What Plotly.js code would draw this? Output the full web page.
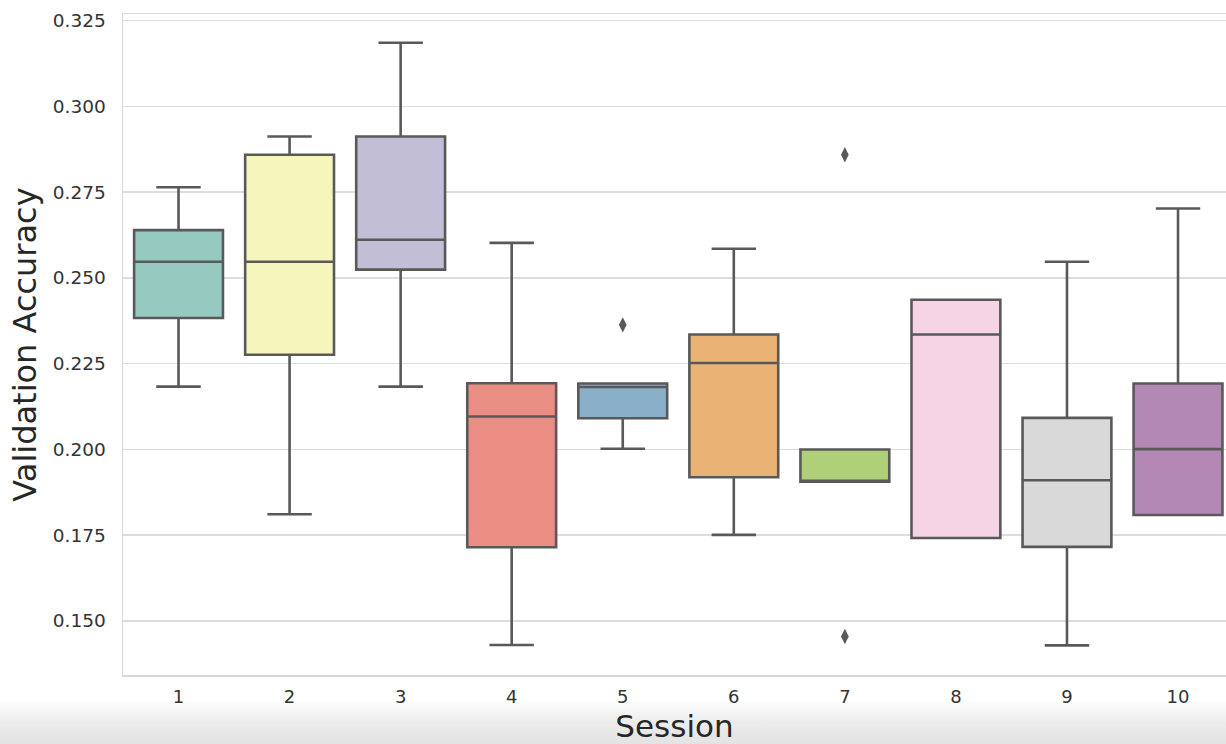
<!DOCTYPE html>
<html>
<head>
<meta charset="utf-8">
<script src="https://cdn.plot.ly/plotly-3.0.1.min.js"></script>
<style>
  html, body { margin: 0; padding: 0; }
  body {
    width: 1226px; height: 744px; overflow: hidden;
    background: linear-gradient(to bottom, #ffffff 0px, #ffffff 700px, #ececec 722px, #e3e3e3 744px);
  }
  #chart { width: 1226px; height: 744px; }
</style>
</head>
<body>
<div id="chart"></div>
<script>
// Validation accuracy per training session: box statistics
const sessions = [1, 2, 3, 4, 5, 6, 7, 8, 9, 10];
const lowerWhisker = [0.2183, 0.1811, 0.2183, 0.1430, 0.2002, 0.1751, 0.1906, 0.1742, 0.1429, 0.1809];
const quartile1    = [0.2383, 0.2276, 0.2524, 0.1715, 0.2091, 0.1919, 0.1906, 0.1742, 0.1716, 0.1809];
const medians      = [0.2547, 0.2547, 0.2611, 0.2096, 0.2182, 0.2252, 0.1906, 0.2335, 0.1910, 0.2001];
const quartile3    = [0.2639, 0.2859, 0.2912, 0.2193, 0.2192, 0.2335, 0.2000, 0.2436, 0.2092, 0.2192];
const upperWhisker = [0.2764, 0.2912, 0.3185, 0.2602, 0.2192, 0.2585, 0.2000, 0.2436, 0.2547, 0.2702];

// Points beyond the whiskers
const outlierSession = [5, 7, 7];
const outlierValue   = [0.2363, 0.2859, 0.1455];

// Set3 palette, softened
const boxColors = ['#96cac1', '#f6f6bc', '#c1bed6', '#ea8d83', '#8aafc9',
                   '#eab375', '#afcf78', '#f6d3e5', '#d9d9d9', '#b488b5'];

const yTicks = [0.150, 0.175, 0.200, 0.225, 0.250, 0.275, 0.300, 0.325];

const edge = '#595959';
const traces = sessions.map((s, i) => ({
  type: 'box',
  x: [s],
  q1: [quartile1[i]],
  median: [medians[i]],
  q3: [quartile3[i]],
  lowerfence: [lowerWhisker[i]],
  upperfence: [upperWhisker[i]],
  width: 0.8,
  whiskerwidth: 0.5,
  fillcolor: boxColors[i],
  line: { color: edge, width: 2.6 },
  boxpoints: false,
  showlegend: false,
  hoverinfo: 'skip'
}));

traces.push({
  type: 'scatter',
  mode: 'markers',
  x: outlierSession,
  y: outlierValue,
  marker: { symbol: 'diamond-tall', size: 11, color: edge },
  showlegend: false,
  hoverinfo: 'skip'
});

const layout = {
  width: 1226,
  height: 744,
  margin: { l: 123, r: 0, t: 14, b: 69 },
  paper_bgcolor: 'rgba(0,0,0,0)',
  plot_bgcolor: '#ffffff',
  font: { family: 'DejaVu Sans, sans-serif', color: '#333333' },
  xaxis: {
    range: [0.5, 10.432],
    tickvals: sessions,
    ticktext: sessions.map(String),
    tickfont: { size: 18, color: '#333333' },
    ticklabelstandoff: 5,
    showgrid: false,
    zeroline: false,
    showline: true,
    mirror: true,
    linecolor: '#d9d9d9',
    linewidth: 1.5,
    title: { text: 'Session', font: { size: 31, color: '#262626' }, standoff: 9 }
  },
  yaxis: {
    range: [0.13426, 0.3269],
    tickvals: yTicks,
    ticktext: yTicks.map(v => v.toFixed(3)),
    tickfont: { size: 18.5, color: '#333333' },
    ticklabelstandoff: 12,
    showgrid: true,
    gridcolor: '#dddddd',
    gridwidth: 1.6,
    zeroline: false,
    showline: true,
    mirror: true,
    linecolor: '#d9d9d9',
    linewidth: 1.5,
    title: { text: 'Validation Accuracy', font: { size: 32, color: '#262626' }, standoff: 6 }
  }
};

Plotly.newPlot('chart', traces, layout, { displayModeBar: false, staticPlot: true });
</script>
</body>
</html>
